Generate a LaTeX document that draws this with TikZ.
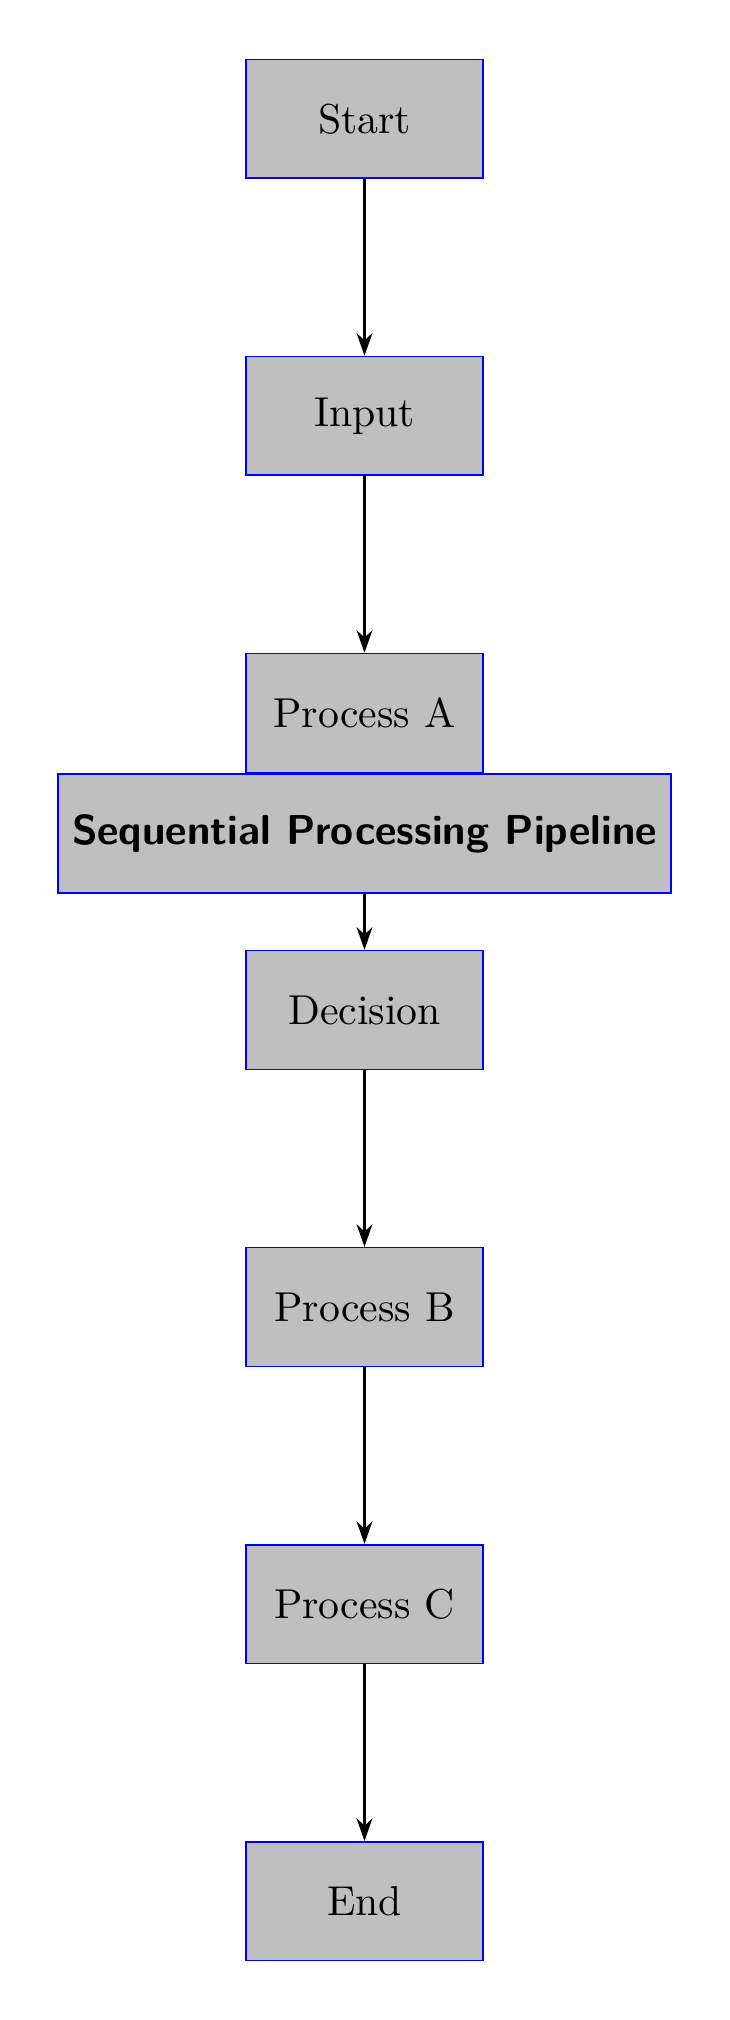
\documentclass[tikz,border=0pt]{standalone}
\usetikzlibrary{arrows.meta,positioning}
\begin{document}
\begin{tikzpicture}[
  blockbox/.style={draw=blue, fill=gray!50, minimum width=2cm, minimum height=1cm, inner sep=3.333pt},
  flowarrow/.style={-{Stealth[length=5.4pt,width=3.8pt]}, draw=black, line width=0.6pt}
]
\useasboundingbox (-3.0676,1.0) rectangle (3.0676,-16.0);
\node[blockbox] (start) at (0,0) {Start};
\node[blockbox] (input) at (0,-2.5) {Input};
\node[blockbox] (procA) at (0,-5) {Process A};
\node[blockbox, anchor=north, font=\sffamily\bfseries] (title) at (procA.south) {Sequential Processing Pipeline};
\node[blockbox] (decision) at (0,-7.5) {Decision};
\node[blockbox] (procB) at (0,-10) {Process B};
\node[blockbox] (procC) at (0,-12.5) {Process C};
\node[blockbox] (end) at (0,-15) {End};
\draw[flowarrow] (start) -- (input);
\draw[flowarrow] (input) -- (procA);
\draw[flowarrow] (title) -- (decision);
\draw[flowarrow] (decision) -- (procB);
\draw[flowarrow] (procB) -- (procC);
\draw[flowarrow] (procC) -- (end);
\end{tikzpicture}
\end{document}
